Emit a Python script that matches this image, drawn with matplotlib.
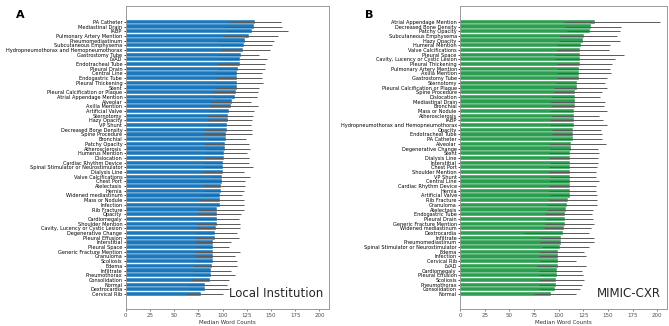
import matplotlib
matplotlib.use('Agg')
import matplotlib.pyplot as plt

# Panel A - local institution (top to bottom)
local_labels = [
    'PA Catheter', 'Mediastinal Drain', 'IABP', 'Pulmonary Artery Mention',
    'Pneumomediastinum', 'Subcutaneous Emphysema',
    'Hydropneumothorax and Hemopneumothorax', 'Gastrostomy Tube', 'LVAD',
    'Endotracheal Tube', 'Pleural Drain', 'Central Line', 'Endogastric Tube',
    'Pleural Thickening', 'Stent', 'Pleural Calcification or Plaque',
    'Atrial Appendage Mention', 'Alveolar', 'Axilla Mention', 'Artificial Valve',
    'Sternotomy', 'Hazy Opacity', 'VP Shunt', 'Decreased Bone Density',
    'Spine Procedure', 'Bronchial', 'Patchy Opacity', 'Atherosclerosis',
    'Humerus Mention', 'Dislocation', 'Cardiac Rhythm Device',
    'Spinal Stimulator or Neurostimulator', 'Dialysis Line',
    'Valve Calcifications', 'Chest Port', 'Atelectasis', 'Hernia',
    'Widened mediastinum', 'Mass or Nodule', 'Infection', 'Rib Fracture',
    'Opacity', 'Cardiomegaly', 'Shoulder Mention',
    'Cavity, Lucency or Cystic Lesion', 'Degenerative Change',
    'Pleural Effusion', 'Interstitial', 'Pleural Space',
    'Generic Fracture Mention', 'Granuloma', 'Scoliosis', 'Edema',
    'Infiltrate', 'Pneumothorax', 'Consolidation', 'Normal', 'Dextrocardia',
    'Cervical Rib',
]
local_median = [
    133.8, 132.4, 130.4, 127.0, 122.8, 122.5, 120.8, 118.7, 118.0, 117.7,
    116.0, 115.3, 115.3, 115.3, 114.6, 113.9, 113.2, 109.4, 108.4, 107.0,
    105.3, 105.3, 104.3, 104.3, 103.6, 103.6, 102.2, 102.2, 101.2, 101.2,
    100.9, 100.9, 100.2, 99.8, 99.1, 98.1, 98.1, 97.8, 97.4, 97.4,
    94.7, 94.3, 94.3, 94.3, 93.0, 92.3, 92.3, 90.2, 90.2, 89.9,
    89.9, 89.9, 88.8, 88.2, 88.2, 87.1, 82.3, 81.3, 77.5,
]
local_low = [
    107, 100.5, 104, 100.5, 93.7, 98.8, 97, 95, 95, 93.7,
    93.7, 93, 93, 92, 93, 90, 90, 88.5, 86.8, 86.8,
    85, 85, 83.4, 81.6, 80, 83.4, 80.6, 81.6, 81.6, 81.6,
    80, 80, 80, 88.5, 78, 80, 80, 78, 76.5, 76.5,
    74.8, 74.8, 74.8, 73.8, 73, 73, 73, 71.4, 71.4, 70.3,
    72.4, 71.4, 69.6, 69.6, 69, 68, 62.8, 66.2, 62.8,
]
local_high = [
    160.5, 161, 167, 157.5, 153, 151, 149, 138, 145.8, 144,
    144, 141, 141, 142, 138, 137, 135, 129.7, 137, 132.8,
    131.7, 130, 129.7, 130, 130, 124.5, 127, 128, 125.6, 127,
    127, 131.4, 121.8, 128, 123.5, 123.5, 121.8, 120, 121.8, 121.8,
    122.5, 119.4, 116.6, 118.4, 118.4, 114.6, 116.6, 108.4, 106.7, 117.7,
    112.9, 114.6, 115.3, 108.4, 113.2, 106.7, 105, 106.7, 100.5,
]

# Panel B - MIMIC-CXR (top to bottom)
mimic_labels = [
    'Atrial Appendage Mention', 'Decreased Bone Density', 'Patchy Opacity',
    'Subcutaneous Emphysema', 'Hazy Opacity', 'Humeral Mention',
    'Valve Calcifications', 'Pleural Space', 'Cavity, Lucency or Cystic Lesion',
    'Pleural Thickening', 'Pulmonary Artery Mention', 'Axilla Mention',
    'Gastrostomy Tube', 'Sternotomy', 'Pleural Calcification or Plaque',
    'Spine Procedure', 'Dislocation', 'Mediastinal Drain', 'Bronchial',
    'Mass or Nodule', 'Atherosclerosis', 'IABP',
    'Hydropneumothorax and Hemopneumothorax', 'Opacity', 'Endotracheal Tube',
    'PA Catheter', 'Alveolar', 'Degenerative Change', 'Stent', 'Dialysis Line',
    'Interstitial', 'Chest Port', 'Shoulder Mention', 'VP Shunt',
    'Central Line', 'Cardiac Rhythm Device', 'Hernia', 'Artificial Valve',
    'Rib Fracture', 'Granuloma', 'Atelectasis', 'Endogastric Tube',
    'Pleural Drain', 'Generic Fracture Mention', 'Widened mediastinum',
    'Dextrocardia', 'Infiltrate', 'Pneumomediastinum',
    'Spinal Stimulator or Neurostimulator', 'Edema', 'Infection',
    'Cervical Rib', 'LVAD', 'Cardiomegaly', 'Pleural Effusion', 'Scoliosis',
    'Pneumothorax', 'Consolidation', 'Normal',
]
mimic_median = [
    137.0, 132.9, 131.9, 126.1, 125.1, 123.0, 122.0, 122.0, 122.0, 122.0,
    121.0, 121.0, 121.0, 119.0, 119.0, 117.0, 117.0, 117.0, 117.0, 116.0,
    116.0, 116.0, 116.0, 115.0, 115.0, 114.2, 112.9, 112.9, 111.9, 111.9,
    111.5, 111.5, 111.2, 111.2, 111.2, 111.2, 111.2, 111.2, 109.5, 108.8,
    107.8, 106.8, 106.8, 106.8, 105.0, 104.0, 102.7, 102.7, 101.7, 99.7,
    99.7, 99.7, 99.7, 98.6, 98.6, 97.6, 97.6, 96.6, 91.9,
]
mimic_low = [
    105, 106.8, 108.5, 101.7, 100, 98.3, 98.3, 96.6, 96.6, 98.3,
    98.3, 98.3, 98.3, 97.6, 95, 95, 93.2, 91.5, 93.2, 91.5,
    93.2, 91.5, 91.5, 93.2, 93.2, 93.2, 89.8, 91.5, 89.8, 89.8,
    91.5, 89.8, 89.8, 91.5, 89.8, 89.8, 89.8, 91.5, 89.8, 88,
    88, 86.4, 86.4, 86.4, 84.7, 64.4, 81.4, 81.4, 83, 79.7,
    79.7, 81.4, 78, 79.7, 79.7, 79.7, 79.7, 79.7, 74.6,
]
mimic_high = [
    202.7, 163.4, 162.4, 159.3, 162.4, 152.5, 150.8, 166, 157, 154,
    152.5, 153, 149, 146.8, 149, 144, 142.4, 146.8, 145.8, 149,
    141.4, 145, 149, 143.4, 144, 144, 148, 140, 141.4, 140,
    140, 139, 138, 138, 140.7, 138, 138, 139, 139, 139,
    134.6, 133.9, 134.6, 135.6, 132.9, 131.2, 135.6, 135.6, 130.5, 126,
    127.8, 117.6, 127.8, 123.7, 124.4, 126, 123.7, 122, 117.6,
]

BLUE = '#1b78bd'
GREEN = '#2b9e50'

plt.rcParams['font.family'] = ['DejaVu Sans']


def draw_panel(ax, labels, median, low, high, color, name, letter):
    ypos = list(range(len(labels)))
    ax.barh(ypos, median, height=0.9, color=color, edgecolor='white', linewidth=0.3)
    ax.hlines(ypos, low, high, color='0.35', linewidth=0.7, zorder=3)
    ax.set_yticks(ypos)
    ax.set_yticklabels(labels, fontsize=3.6)
    ax.set_ylim(61.2, -3.4)
    ax.set_xlim(0, 210)
    ax.set_xticks([0, 25, 50, 75, 100, 125, 150, 175, 200])
    ax.tick_params(axis='x', labelsize=4, length=1.5, width=0.5, pad=1.5, colors='0.3')
    ax.tick_params(axis='y', length=1.5, width=0.5, pad=1)
    ax.set_xlabel('Median Word Counts', fontsize=4, labelpad=1.5, color='0.2')
    for sp in ax.spines.values():
        sp.set_color('0.6')
        sp.set_linewidth(0.7)
    ax.text(0.97, 0.05, name, transform=ax.transAxes, ha='right', va='center',
            fontsize=8.5, color='0.15')
    ax.text(-0.6, 1.0, letter, transform=ax.transAxes, fontsize=8,
            fontweight='bold', va='top')


fig = plt.figure(figsize=(6.69, 3.26), dpi=100)
ax_a = fig.add_axes([0.188, 0.052, 0.304, 0.93])
ax_b = fig.add_axes([0.688, 0.052, 0.309, 0.93])

draw_panel(ax_a, local_labels, local_median, local_low, local_high, BLUE,
           'Local Institution', 'A')
draw_panel(ax_b, mimic_labels, mimic_median, mimic_low, mimic_high, GREEN,
           'MIMIC-CXR', 'B')
ax_a.texts[-1].set_position((-0.54, 0.985))
ax_b.texts[-1].set_position((-0.46, 0.985))

fig.savefig('out.png', dpi=100)
